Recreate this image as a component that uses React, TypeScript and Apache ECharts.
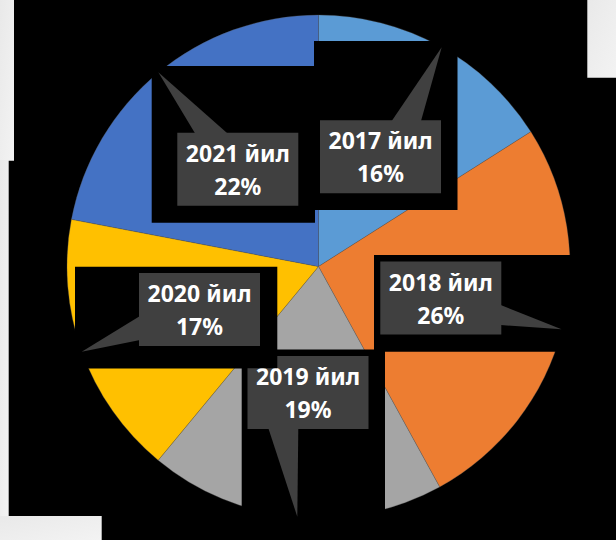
import React, { useEffect, useRef } from "react";
import * as echarts from "echarts";

const categories = ["2017 йил", "2018 йил", "2019 йил", "2020 йил", "2021 йил"];
const values = [16, 26, 19, 17, 22];
const sliceColors = ["#5B9BD5", "#ED7D31", "#A5A5A5", "#FFC000", "#4472C4"];

// label box centres (layout)
const labelCenters: [number, number][] = [
  [380.5, 156.7],
  [440.8, 298],
  [308, 392.5],
  [199.5, 309.5],
  [237.8, 169.2],
];

// black backing rectangles [x, y, w, h]
const backRects: number[][] = [
  [314, 41, 143.5, 169],
  [374, 255, 250, 96.7],
  [241.7, 349.5, 143.3, 200],
  [75, 266.7, 202.3, 101.7],
  [151.7, 66, 163.3, 156.7],
];

// callout pointers
const pointers: number[][][] = [
  [[391.7, 121], [421, 121], [441.7, 47.3]],
  [[500.7, 305], [500.7, 325], [561.5, 329.3]],
  [[268.3, 428], [298.3, 428], [297.3, 516.7]],
  [[140, 316], [140, 340], [81.7, 351.7]],
  [[195, 133.3], [227.3, 133.3], [158.3, 72.3]],
];

const grayRects: number[][] = [
  [587.3, 0, 30, 77.7],
  [0, 0, 14, 160.7],
  [0, 160, 8.7, 357],
  [0, 516, 101.7, 24],
];

export default function App() {
  const ref = useRef<HTMLDivElement>(null);
  useEffect(() => {
    if (!ref.current) return;
    const chart = echarts.init(ref.current, undefined, { renderer: "svg" });
    const data = categories.map((c, i) => ({
      name: c,
      value: values[i],
      itemStyle: { color: sliceColors[i] },
    }));
    const graphic: any[] = [];
    backRects.forEach((r) =>
      graphic.push({
        type: "rect",
        shape: { x: r[0], y: r[1], width: r[2], height: r[3] },
        style: { fill: "#000" },
        z: 5,
        silent: true,
      })
    );
    pointers.forEach((p) =>
      graphic.push({
        type: "polygon",
        shape: { points: p },
        style: { fill: "#404040" },
        z: 6,
        silent: true,
      })
    );
    // part of the 2020 backing that lies over the 2019 label
    graphic.push({
      type: "rect",
      shape: { x: 247, y: 355, width: 30.3, height: 13.3 },
      style: { fill: "#000" },
      z: 20,
      silent: true,
    });
    grayRects.forEach((r) =>
      graphic.push({
        type: "rect",
        shape: { x: r[0], y: r[1], width: r[2], height: r[3] },
        style: {
          fill: new echarts.graphic.LinearGradient(0, 0, 1, 1, [
            { offset: 0, color: "#e9e9e9" },
            { offset: 1, color: "#f3f3f3" },
          ]),
        },
        z: 30,
        silent: true,
      })
    );
    chart.setOption({
      animation: false,
      backgroundColor: "#000",
      graphic,
      series: [
        {
          type: "pie",
          z: 1,
          center: [318.5, 266.5],
          radius: 251.5,
          startAngle: 90,
          clockwise: true,
          silent: true,
          label: { show: false },
          labelLine: { show: false },
          itemStyle: { borderWidth: 0.5, borderColor: "rgba(90,90,90,0.6)" },
          data,
        },
        {
          type: "pie",
          z: 10,
          center: [318.5, 266.5],
          radius: 251.5,
          startAngle: 90,
          clockwise: true,
          silent: true,
          itemStyle: { color: "rgba(0,0,0,0)", borderWidth: 0 },
          emphasis: { disabled: true },
          labelLine: { show: false },
          label: {
            show: true,
            position: "inside",
            formatter: (p: any) => `${p.name}\n${Math.round(p.percent)}%`,
            color: "#ffffff",
            fontFamily: "Noto Sans",
            fontWeight: "bold",
            fontSize: 23,
            lineHeight: 33,
            backgroundColor: "#404040",
            width: 121,
            padding: [4, 0, 3, 0],
            align: "center",
          },
          labelLayout: (params: any) => {
            const c = labelCenters[params.dataIndex];
            return { x: c[0], y: c[1], align: "center", verticalAlign: "middle" };
          },
          data: categories.map((c, i) => ({ name: c, value: values[i] })),
        },
      ],
    });
    return () => chart.dispose();
  }, []);
  return (
    <div
      ref={ref}
      style={{ position: "fixed", left: 0, top: 0, width: 616, height: 540 }}
    />
  );
}
